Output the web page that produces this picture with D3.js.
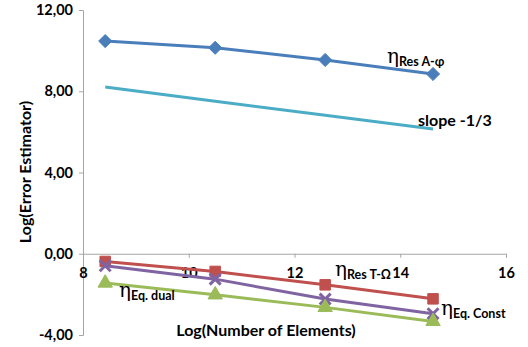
<!DOCTYPE html>
<html>
<head>
<meta charset="utf-8">
<script src="https://cdn.jsdelivr.net/npm/d3@7"></script>
<style>
  body { margin: 0; background: #fff; }
  text { font-family: Lato, "Open Sans", sans-serif; font-weight: bold; fill: #000; }
</style>
</head>
<body>
<svg id="chart" width="528" height="347"></svg>
<script>
// values
var logElements = [8.42, 10.50, 12.58, 14.62];
var resAphi   = [10.47, 10.14, 9.54, 8.85];
var slope     = [8.21, 7.51, 6.82, 6.14];
var resTOmega = [-0.38, -0.87, -1.53, -2.22];
var eqConst   = [-0.59, -1.25, -2.23, -2.95];
var eqDual    = [-1.44, -2.02, -2.64, -3.33];
var xTicks = [8, 10, 12, 14, 16];
var yTicks = [-4, 0, 4, 8, 12];

var svg = d3.select("#chart");

var x = d3.scaleLinear().domain([8, 16]).range([83, 506]);
var y = d3.scaleLinear().domain([-4, 12]).range([335, 10]);

var axisColor = "#a6a6a6";

// y axis
var yAxis = svg.append("g")
    .attr("transform", "translate(" + x(8) + ",0)")
    .call(d3.axisLeft(y).tickValues(yTicks).tickSize(4).tickPadding(6)
      .tickFormat(function(d) { return d.toFixed(2).replace(".", ","); }));
yAxis.select(".domain").attr("stroke", axisColor);
yAxis.selectAll(".tick line").attr("stroke", axisColor);
yAxis.selectAll("text").style("font-size", "14.5px").attr("fill", "#000");

// x axis crosses at y = 0
var xAxis = svg.append("g")
    .attr("transform", "translate(0," + y(0) + ")")
    .call(d3.axisBottom(x).tickValues(xTicks).tickSize(4).tickPadding(10));
xAxis.select(".domain").attr("stroke", axisColor);
xAxis.selectAll(".tick line").attr("stroke", axisColor);
xAxis.selectAll("text").style("font-size", "14.5px").attr("fill", "#000");

// axis titles
svg.append("text")
    .attr("transform", "translate(31," + 172 + ") rotate(-90)")
    .attr("text-anchor", "middle")
    .style("font-size", "16px")
    .text("Log(Error Estimator)");

svg.append("text")
    .attr("x", 266).attr("y", 336)
    .attr("text-anchor", "middle")
    .style("font-size", "16px")
    .text("Log(Number of Elements)");

var series = [
  {values: resAphi,   color: "#4a7ebb", marker: d3.symbolDiamond2, size: 110},
  {values: slope,     color: "#4bacc6", marker: null},
  {values: resTOmega, color: "#c0504d", marker: d3.symbolSquare, size: 110},
  {values: eqConst,   color: "#8064a2", marker: d3.symbolX, size: 80},
  {values: eqDual,    color: "#9bbb59", marker: d3.symbolTriangle, size: 90}
];

var line = d3.line()
    .x(function(d, i) { return x(logElements[i]); })
    .y(function(d) { return y(d); });

series.forEach(function(s) {
  svg.append("path")
      .attr("d", line(s.values))
      .attr("fill", "none")
      .attr("stroke", s.color)
      .attr("stroke-width", 3);
  if (s.marker) {
    var sym = d3.symbol().type(s.marker).size(s.size);
    svg.selectAll(null)
      .data(s.values)
      .enter().append("path")
        .attr("d", sym)
        .attr("transform", function(d, i) { return "translate(" + x(logElements[i]) + "," + y(d) + ")"; })
        .attr("fill", s.color)
        .attr("stroke", s.color)
        .attr("stroke-width", s.marker === d3.symbolX ? 3 : 1);
  }
});

// annotations
function eta(px, py, sub) {
  var t = svg.append("text").attr("x", px).attr("y", py);
  t.append("tspan")
      .style("font-family", "'DejaVu Serif', serif")
      .style("font-weight", "normal")
      .style("font-size", "20px")
      .text("η");
  t.append("tspan")
      .attr("dy", 3)
      .style("font-size", "12.5px")
      .text(sub);
}
eta(387, 63, "Res A-φ");
eta(335, 276, "Res T-Ω");
eta(119, 297, "Eq. dual");
eta(441, 315, "Eq. Const");

svg.append("text")
    .attr("x", 418).attr("y", 126)
    .style("font-size", "16px")
    .text("slope -1/3");
</script>
</body>
</html>
